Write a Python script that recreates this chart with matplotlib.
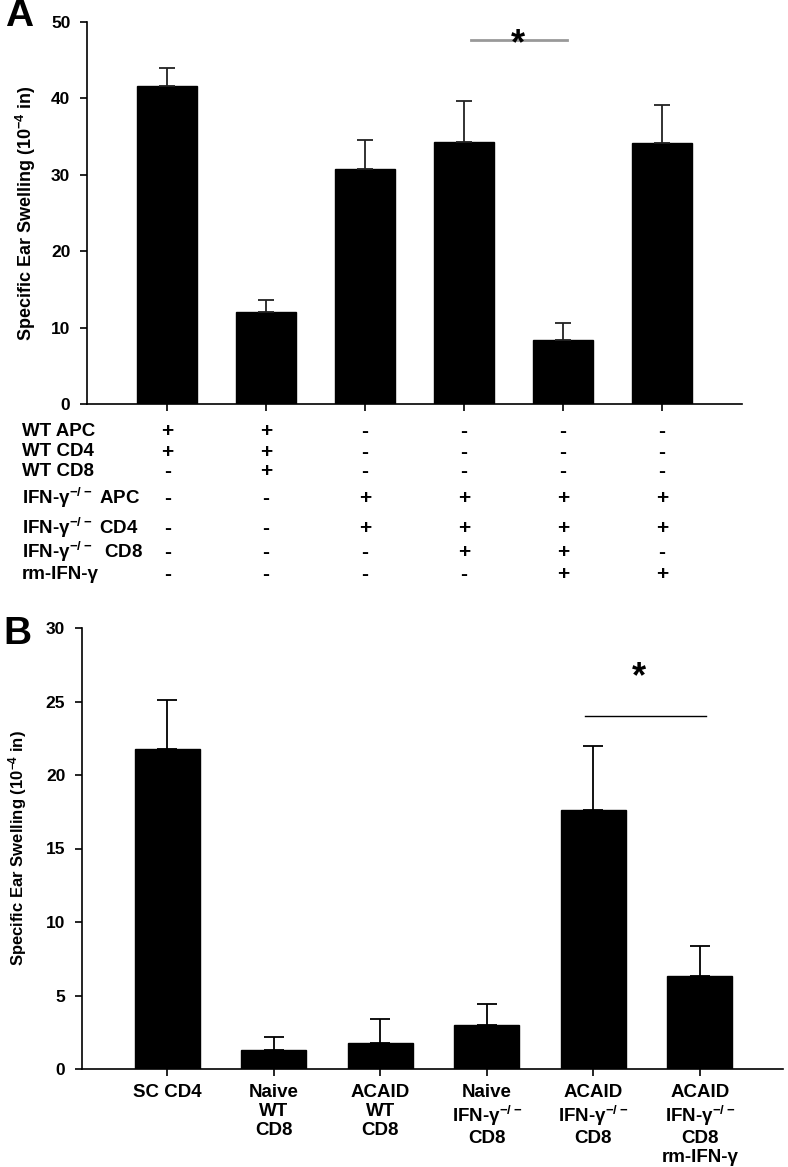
import numpy as np
import matplotlib
matplotlib.use('Agg')
import matplotlib.pyplot as plt

plt.rcParams['font.family'] = ['Liberation Sans', 'DejaVu Sans']
plt.rcParams['font.weight'] = 'bold'
plt.rcParams['mathtext.fontset'] = 'custom'
plt.rcParams['mathtext.rm'] = 'Liberation Sans:bold'
plt.rcParams['mathtext.default'] = 'rm'

# panel A data
a_means = [41.6, 12.0, 30.8, 34.3, 8.4, 34.1]
a_errs = [2.4, 1.6, 3.7, 5.3, 2.2, 5.0]
row_labels = ['WT APC', 'WT CD4', 'WT CD8', 'IFN-γ$^{-/-}$ APC', 'IFN-γ$^{-/-}$ CD4',
              'IFN-γ$^{-/-}$  CD8', 'rm-IFN-γ']
row_signs = [
    ['+', '+', '-', '-', '-', '-'],
    ['+', '+', '-', '-', '-', '-'],
    ['-', '+', '-', '-', '-', '-'],
    ['-', '-', '+', '+', '+', '+'],
    ['-', '-', '+', '+', '+', '+'],
    ['-', '-', '-', '+', '+', '-'],
    ['-', '-', '-', '-', '+', '+'],
]

# panel B data
b_labels = ['SC CD4', 'Naive\nWT\nCD8', 'ACAID\nWT\nCD8', 'Naive\nIFN-γ$^{-/-}$\nCD8',
            'ACAID\nIFN-γ$^{-/-}$\nCD8', 'ACAID\nIFN-γ$^{-/-}$\nCD8\nrm-IFN-γ']
b_means = [21.8, 1.3, 1.8, 3.0, 17.6, 6.3]
b_errs = [3.3, 0.9, 1.6, 1.4, 4.4, 2.1]

W, H = 788, 1167
fig = plt.figure(figsize=(W / 100, H / 100), dpi=100)


def px_axes(l, r, b, t):
    return fig.add_axes([l / W, 1 - b / H, (r - l) / W, (b - t) / H])


def style(ax):
    for s in ['top', 'right']:
        ax.spines[s].set_visible(False)
    for s in ['left', 'bottom']:
        ax.spines[s].set_linewidth(1.2)
    ax.tick_params(direction='out', length=5, width=1.2, labelsize=12.5, pad=7)


# ---- A ----
axA = px_axes(87, 742, 404, 22)
xa = np.arange(len(a_means))
axA.bar(xa, a_means, width=0.61, color='black', edgecolor='black')
axA.errorbar(xa, a_means, yerr=[np.zeros(len(a_errs)), a_errs], fmt='none',
             ecolor='#222222', elinewidth=1.3, capsize=6, capthick=1.3)
axA.set_xlim(-0.81, 5.81)
axA.set_ylim(0, 50)
axA.set_yticks([0, 10, 20, 30, 40, 50])
axA.set_xticks(xa)
axA.set_xticklabels([])
style(axA)
axA.set_ylabel('Specific Ear Swelling (10$^{-4}$ in)', fontsize=13, fontweight='bold', labelpad=9)
axA.plot([3.07, 4.04], [47.6, 47.6], color='#999999', lw=2, clip_on=False)
axA.text(3.55, 47.0, '*', ha='center', va='center', fontsize=26, fontweight='bold')

row_y = [431, 452, 472, 498, 528, 552, 575]
for lab, signs, y in zip(row_labels, row_signs, row_y):
    fig.text(22 / W, 1 - y / H, lab, ha='left', va='center', fontsize=13.5, fontweight='bold')
    for i, s in enumerate(signs):
        xf = axA.transData.transform((xa[i], 0))[0] / fig.dpi / fig.get_figwidth()
        fig.text(xf, 1 - y / H, s, ha='center', va='center',
                 fontsize=15 if s == '+' else 15, fontweight='bold')

fig.text(5 / W, 1 - 16 / H, 'A', ha='left', va='center', fontsize=28, fontweight='bold')

# ---- B ----
axB = px_axes(82, 783, 1069, 628)
xb = np.arange(len(b_means))
axB.bar(xb, b_means, width=0.61, color='black', edgecolor='black')
axB.errorbar(xb, b_means, yerr=[np.zeros(len(b_errs)), b_errs], fmt='none',
             ecolor='black', elinewidth=1.3, capsize=7, capthick=1.3)
axB.set_xlim(-0.80, 5.78)
axB.set_ylim(0, 30)
axB.set_yticks([0, 5, 10, 15, 20, 25, 30])
axB.set_xticks(xb)
axB.set_xticklabels(b_labels, fontsize=13.5, fontweight='bold', linespacing=1.15, va='top')
style(axB)
axB.tick_params(axis='x', labelsize=13.5, pad=6)
axB.set_ylabel('Specific Ear Swelling (10$^{-4}$ in)', fontsize=12, fontweight='bold', labelpad=12)
axB.plot([3.92, 5.06], [24.0, 24.0], color='black', lw=1, clip_on=False)
axB.text(4.43, 26.6, '*', ha='center', va='center', fontsize=26, fontweight='bold')

fig.text(3 / W, 1 - 634 / H, 'B', ha='left', va='center', fontsize=28, fontweight='bold')

fig.savefig('out.png', dpi=100)
